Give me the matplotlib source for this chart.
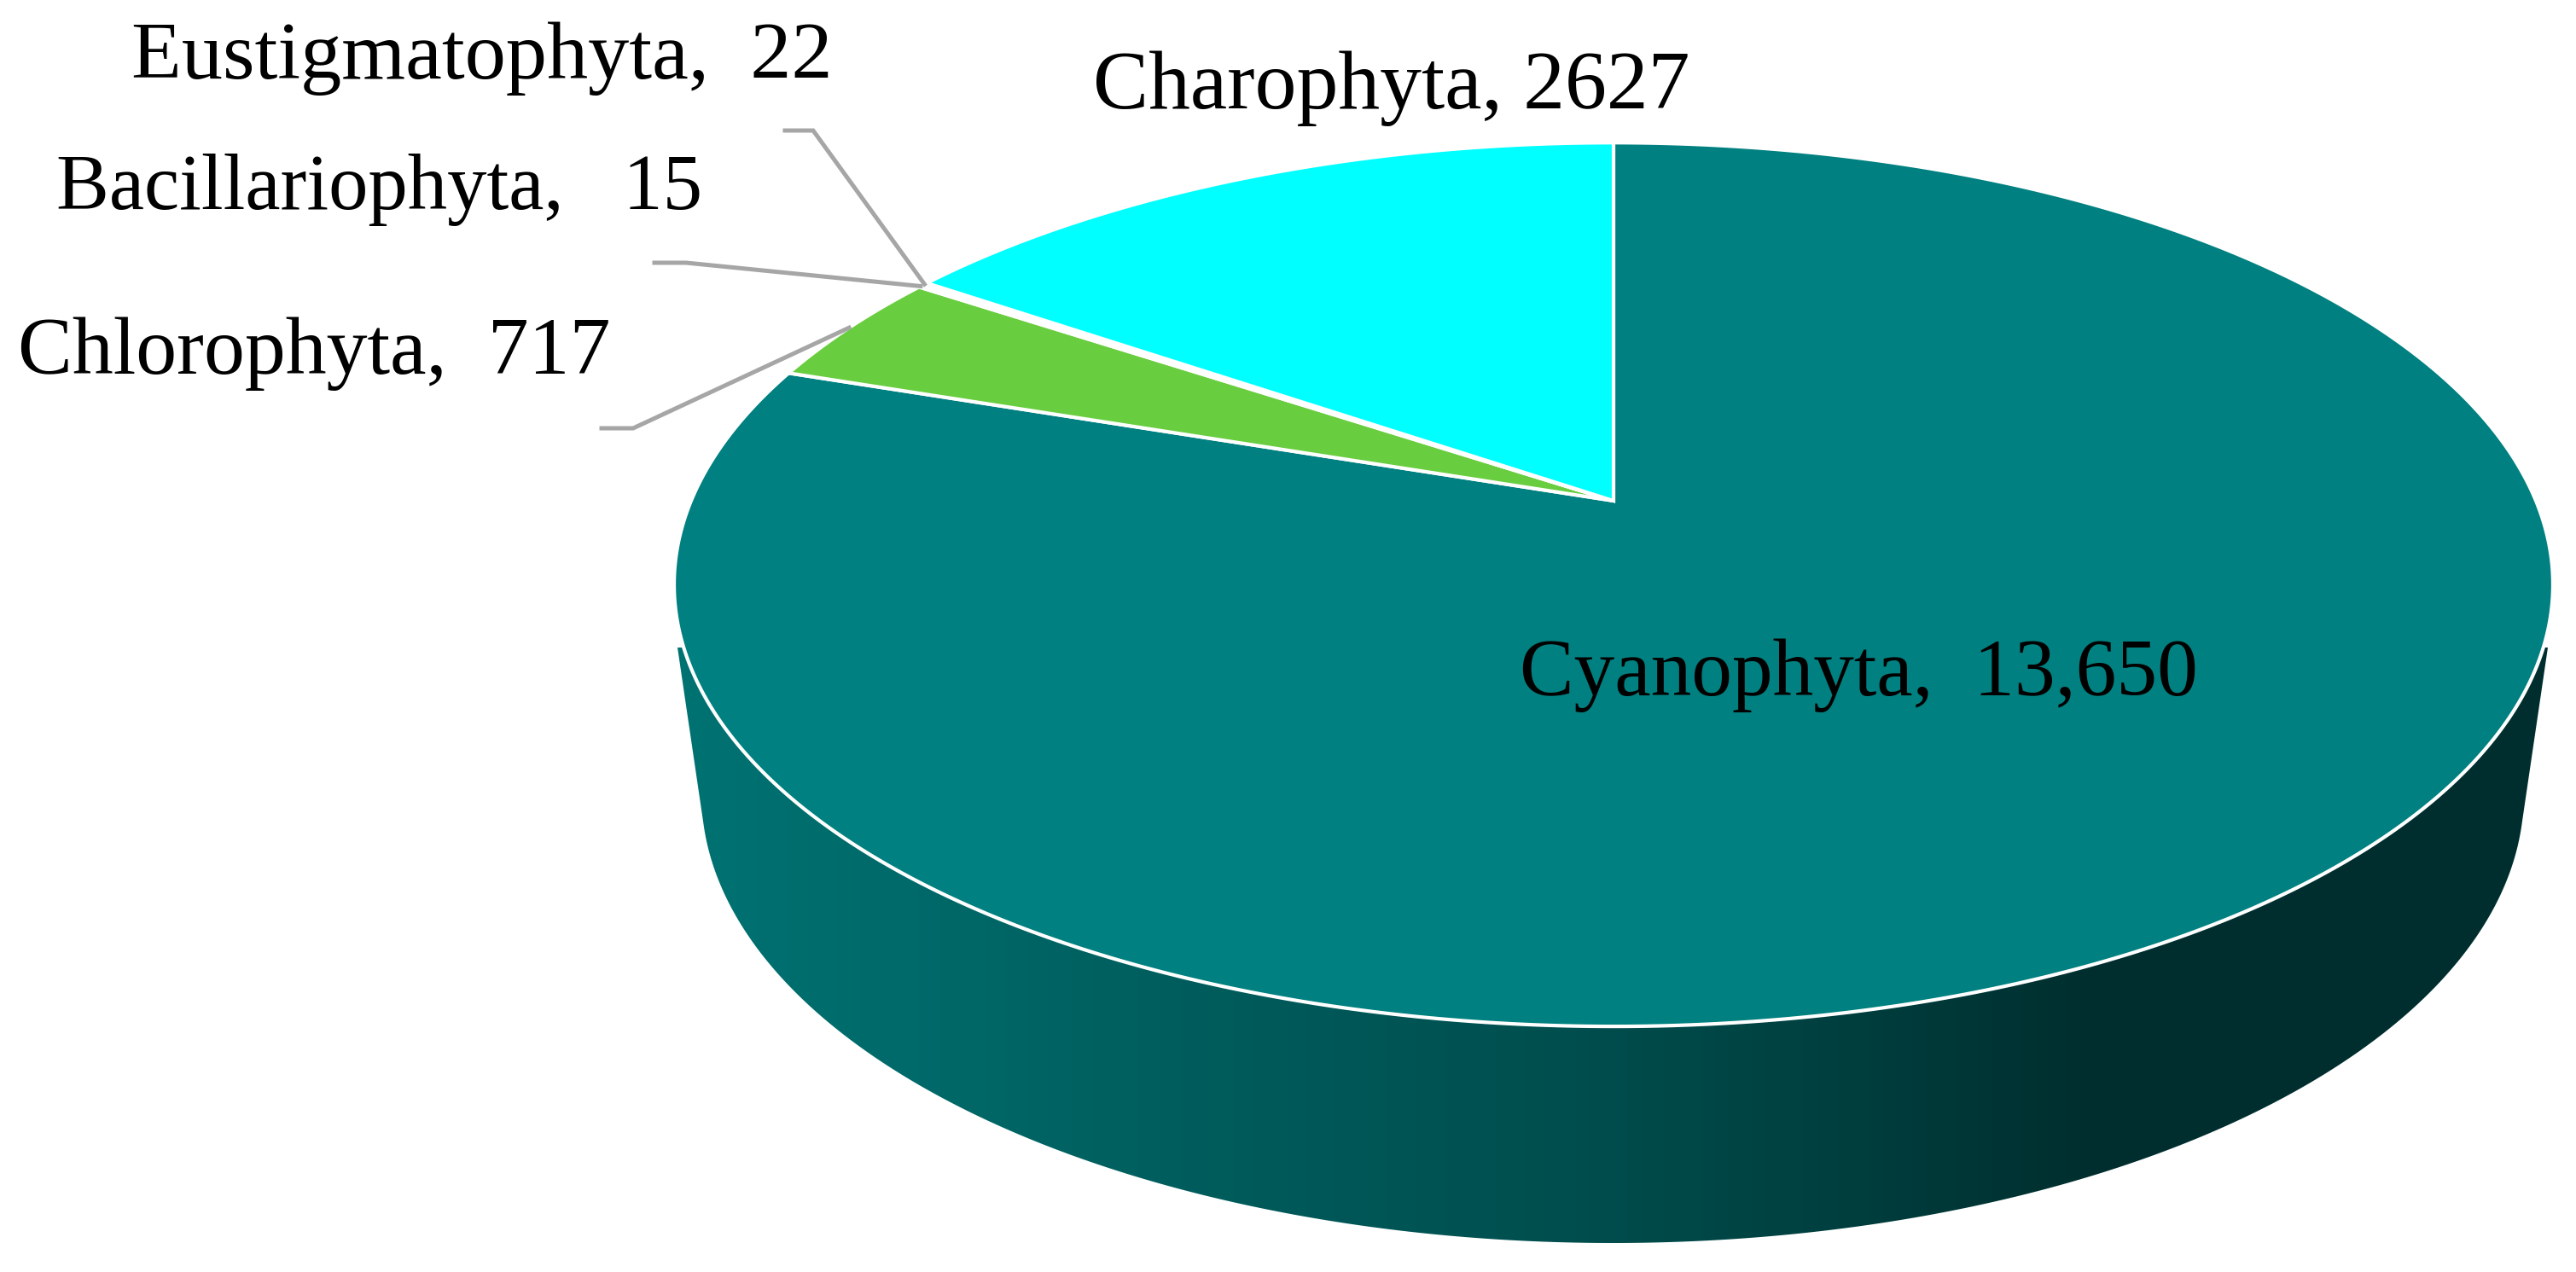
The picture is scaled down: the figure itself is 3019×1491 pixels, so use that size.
import numpy as np
import matplotlib
matplotlib.use('Agg')
import matplotlib.pyplot as plt
from matplotlib.colors import LinearSegmentedColormap
from matplotlib.patches import Polygon

plt.rcParams['font.family'] = ['Liberation Serif', 'DejaVu Serif']

# Data, clockwise from 12 o'clock
phyla = ['Cyanophyta', 'Chlorophyta', 'Bacillariophyta', 'Eustigmatophyta', 'Charophyta']
counts = [13650, 717, 15, 22, 2627]
count_labels = ['13,650', '717', '15', '22', '2627']
colors = ['#008080', '#69CE3F', '#69CE3F', '#00FFFF', '#00FFFF']

# Label layout: text x, baseline y, gap after the comma, font size
label_pos = {
    'Cyanophyta': (1781, 815, '  ', 68.7),
    'Chlorophyta': (21, 438, '  ', 69),
    'Bacillariophyta': (66, 245, '   ', 66.8),
    'Eustigmatophyta': (154, 92, '  ', 69.3),
    'Charophyta': (1281, 127, ' ', 70.3),
}
# Leader lines: shelf end, elbow
leaders = {
    'Chlorophyta': [(705, 502), (742, 502)],
    'Bacillariophyta': [(767, 308), (804, 308)],
    'Eustigmatophyta': [(920, 153), (953, 153)],
}

# Tilted disc: projective map of the unit circle, the pie centre lands off the ellipse centre
CX, CY = 1891, 587
A, B, K = 1081, 499.3, 0.1896


def project(theta):
    # theta in radians, clockwise from the top
    u, v = np.sin(theta), np.cos(theta)
    den = 1 + K * v
    return CX + A * u / den, CY - B * v / den


fig = plt.figure(figsize=(30.19, 14.91), dpi=100)
ax = fig.add_axes([0, 0, 1, 1])
ax.set_xlim(0, 3019)
ax.set_ylim(1491, 0)
ax.axis('off')

# Side wall with left to right shading
t = np.linspace(np.radians(3.7), np.radians(176.3), 300)
wall_x = 1890 - 1068 * np.cos(t)
wall_y = 930 + 527 * np.sin(t)
wall_xy = [(794, 759)] + list(zip(wall_x, wall_y)) + [(2986, 759)]
wall = Polygon(wall_xy, closed=True, facecolor='none', edgecolor='none')
ax.add_patch(wall)
stops = [(0.0, '#007272'), (0.14, '#006868'), (0.28, '#005C5C'), (0.48, '#004E4E'),
         (0.62, '#003F3F'), (0.76, '#002E2E'), (1.0, '#002E2E')]
wall_cmap = LinearSegmentedColormap.from_list('wall', stops)
im = ax.imshow(np.linspace(0, 1, 512)[None, :], cmap=wall_cmap, aspect='auto',
               extent=[794, 2986, 1491, 700], zorder=1)
im.set_clip_path(wall)
ax.set_xlim(0, 3019)
ax.set_ylim(1491, 0)

# Top face
fractions = np.array(counts) / sum(counts)
edges = np.concatenate([[0], np.cumsum(fractions)]) * 2 * np.pi
for i, name in enumerate(phyla):
    th = np.linspace(edges[i], edges[i + 1], max(3, int(fractions[i] * 720)))
    x, y = project(th)
    ax.fill(np.r_[CX, x], np.r_[CY, y], facecolor=colors[i], edgecolor='white',
            linewidth=3, joinstyle='miter', zorder=2)

# Leaders run to the middle of their slice
for i, name in enumerate(phyla):
    if name in leaders:
        tip = project((edges[i] + edges[i + 1]) / 2)
        pts = leaders[name] + [tip]
        ax.plot([p[0] for p in pts], [p[1] for p in pts], color='#A6A6A6',
                linewidth=3.6, solid_joinstyle='miter', zorder=3)

for name, label in zip(phyla, count_labels):
    x, y, gap, size = label_pos[name]
    ax.text(x, y, name + ',' + gap + label, ha='left', va='baseline',
            fontsize=size, color='black', zorder=4)

fig.savefig('out.png', dpi=100)
